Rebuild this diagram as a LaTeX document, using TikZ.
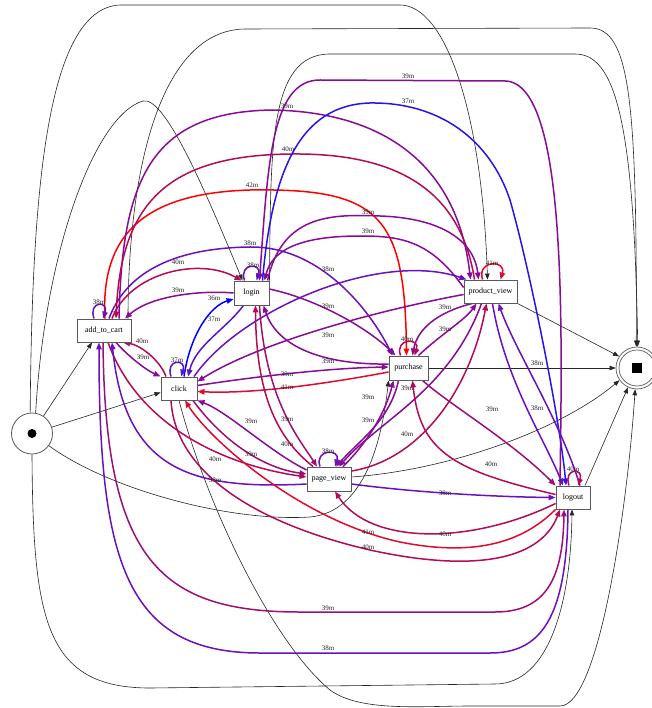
\documentclass[tikz,border=0pt]{standalone}
\usepackage{fontspec}
\setmainfont{Liberation Serif}
\usetikzlibrary{arrows.meta}
\pgfdeclarelayer{bg}
\pgfdeclarelayer{edges}
\pgfsetlayers{bg,edges,main}

\definecolor{c36}{RGB}{0,0,255}
\definecolor{c37}{RGB}{40,20,235}
\definecolor{c37v}{RGB}{85,20,205}
\definecolor{c38}{RGB}{108,16,190}
\definecolor{c39}{RGB}{135,12,150}
\definecolor{c39m}{RGB}{155,15,120}
\definecolor{c40}{RGB}{180,10,90}
\definecolor{c41}{RGB}{225,10,50}
\definecolor{c42}{RGB}{255,0,0}
\definecolor{frame}{RGB}{90,90,90}

\tikzset{
  act/.style={draw=frame, line width=0.9pt, fill=white, inner sep=0pt,
    font=\fontsize{8}{9}\selectfont},
  flow/.style={line width=1.5pt, -{Triangle[length=7pt,width=5.5pt]}},
  f36/.style={flow, color=c36},
  f37/.style={flow, color=c37},
  f37v/.style={flow, color=c37v},
  f38/.style={flow, color=c38},
  f39/.style={flow, color=c39},
  f39m/.style={flow, color=c39m},
  f40/.style={flow, color=c40},
  f41/.style={flow, color=c41},
  f42/.style={flow, color=c42},
  blk/.style={line width=0.6pt, draw=black!85, -{Triangle[length=6pt,width=4.5pt]}},
  lbl/.style={font=\fontsize{7}{8}\selectfont, text=black!85, inner sep=0pt},
}

\begin{document}
\begin{tikzpicture}[x=1pt, y=-1pt]
\useasboundingbox (0,0) rectangle (651,708);
\begin{pgfonlayer}{bg}
  \fill[white] (0,0) rectangle (651,708);
\end{pgfonlayer}

% ---------- activities ----------
\node[act, minimum width=54pt, minimum height=23pt] (A) at (104,330.5) {add\_to\_cart};
\node[act, minimum width=36pt, minimum height=23pt] (C) at (179,388.5) {click};
\node[act, minimum width=35pt, minimum height=24pt] (L) at (251.5,293) {login};
\node[act, minimum width=53pt, minimum height=23pt] (P) at (490.5,291.5) {product\_view};
\node[act, minimum width=39pt, minimum height=24pt] (U) at (408.5,368) {purchase};
\node[act, minimum width=44pt, minimum height=24pt] (G) at (329,479) {page\_view};
\node[act, minimum width=34pt, minimum height=23pt] (O) at (573,497.5) {logout};

% start and end places
\node[circle, draw=frame, line width=0.8pt, minimum size=41pt, inner sep=0pt, fill=white] (S) at (32,433.5) {};
\node[circle, fill=black, minimum size=9pt, inner sep=0pt] (Sdot) at (S.center) {};
\node[circle, draw=frame, line width=0.7pt, minimum size=42pt, inner sep=0pt, fill=white] (E) at (637,368) {};
\node[circle, draw=frame, line width=0.7pt, minimum size=36pt, inner sep=0pt] (Ein) at (E.center) {};
\node[fill=black, minimum size=10pt, inner sep=0pt] (Esq) at (637,367.5) {};

\begin{pgfonlayer}{edges}
% ---------- start arcs ----------
\draw[blk] (S) -- ([xshift=-12pt]A.south);
\draw[blk] (S) -- ([yshift=-4pt]C.west);
\draw[blk] (S.80) .. controls (45,250) and (95,115) .. (143,101) .. controls (165,96) and (205,190) .. ([xshift=-9pt]L.north);
\draw[blk] (S.95) .. controls (32,200) and (45,8) .. (120,5) -- (400,5) .. controls (445,5) and (482,110) .. ([xshift=-3pt]P.north);
\draw[blk] (S) .. controls (110,490) and (230,522) .. (310,517) .. controls (365,512) and (382,440) .. (U.south west);
\draw[blk] (S.south) .. controls (33,620) and (45,688) .. (150,688) -- (495,684) .. controls (550,684) and (571,600) .. ([xshift=-1pt]O.south);

% ---------- end arcs ----------
\draw[blk] ([xshift=24pt]A.north) .. controls (128,170) and (160,30) .. (245,29) -- (590,28) .. controls (630,28) and (637,100) .. (E.92);
\draw[blk] (L.north east) .. controls (271,150) and (268,54) .. (330,54) -- (575,54) .. controls (615,54) and (634,120) .. (E.88);
\draw[blk] (C.south) .. controls (205,500) and (270,640) .. (330,690) .. controls (360,712) and (420,706) .. (470,706) -- (560,706) .. controls (600,706) and (628,500) .. (E.265);
\draw[blk] ([yshift=2pt]G.east) .. controls (450,470) and (560,430) .. (E.215);
\draw[blk] (U.east) -- (E.180);
\draw[blk] (P.south east) -- (E.147);
\draw[blk] ([xshift=12pt]O.north) -- (E.245);

% ---------- add_to_cart ----------
\draw[f39] ([xshift=12pt]A.south) .. controls (128,356) and (146,370) .. (C.north west);
\draw[f40] ([xshift=-13pt]C.north) .. controls (160,360) and (140,345) .. ([xshift=19pt]A.south);
\draw[f40] ([xshift=8pt]A.north) .. controls (130,272) and (200,257) .. ([xshift=-10pt]L.north);
\draw[f39] (L.west) .. controls (200,290) and (150,296) .. ([xshift=21pt]A.north);
\draw[f42] ([xshift=1pt]A.north) .. controls (100,230) and (150,193) .. (250,190) .. controls (380,188) and (405,215) .. ([xshift=-2pt]U.north);
\draw[f38] ([xshift=5pt]A.north) .. controls (125,275) and (170,248) .. (250,247) .. controls (320,246) and (370,310) .. ([xshift=-16pt]U.north);
\draw[f39] ([xshift=15pt]A.north) .. controls (122,180) and (150,112) .. (272,110) .. controls (390,112) and (458,170) .. ([xshift=-20pt]P.north);
\draw[f40] ([xshift=-16pt]P.north) .. controls (462,200) and (410,155) .. (300,154) .. controls (170,153) and (121,200) .. ([xshift=12pt]A.north);
\draw[f40] ([xshift=4pt]A.south) .. controls (140,430) and (230,466) .. ([yshift=2pt]G.west);
\draw[f38] ([yshift=-5pt]G.west) .. controls (190,490) and (125,470) .. ([xshift=8pt]A.south);
\draw[f39m] ([xshift=-1pt]A.south) .. controls (105,560) and (160,612) .. (300,612) -- (495,612) .. controls (545,612) and (563,580) .. ([xshift=-9pt]O.south);
\draw[f38] ([xshift=-5pt]O.south) .. controls (567,620) and (540,653) .. (490,653) -- (260,653) .. controls (125,653) and (99,560) .. ([xshift=-5pt]A.south);

% ---------- click ----------
\draw[f36] ([xshift=5pt]C.north) .. controls (190,335) and (210,306) .. ([yshift=-6pt]L.west);
\draw[f37v] ([xshift=-8pt]L.south) .. controls (225,330) and (196,345) .. ([xshift=9pt]C.north);
\draw[f39] ([yshift=3pt]C.east) .. controls (260,376) and (330,368) .. ([yshift=1pt]U.west);
\draw[f41] ([yshift=-4pt]U.west) .. controls (320,385) and (250,394) .. ([yshift=-3pt]C.east);
\draw[f38] ([xshift=15pt]C.north) .. controls (240,310) and (380,250) .. ([xshift=-24pt]P.north);
\draw[f39] ([yshift=-3pt]P.west) .. controls (380,310) and (260,342) .. ([yshift=7pt]C.east);
\draw[f39m] ([xshift=14pt]C.south) .. controls (222,440) and (262,468) .. ([yshift=5pt]G.west);
\draw[f39] ([yshift=9pt]G.west) .. controls (270,452) and (228,412) .. (C.south east);
\draw[f41] (O.south west) .. controls (520,545) and (470,556) .. (400,542) .. controls (300,520) and (210,440) .. ([xshift=6pt]C.south);
\draw[f40] ([xshift=-8pt]C.south) .. controls (175,470) and (250,522) .. (370,550) .. controls (470,572) and (540,562) .. ([xshift=-13pt]O.south);

% ---------- login ----------
\draw[f39] ([xshift=16pt]L.north) .. controls (282,215) and (330,214) .. (380,216) .. controls (440,218) and (474,240) .. ([xshift=-12pt]P.north);
\draw[f39] ([yshift=4pt]P.west) .. controls (430,240) and (400,236) .. (360,236) .. controls (300,236) and (272,250) .. ([xshift=13pt]L.north);
\draw[f37] ([xshift=11pt]L.north) .. controls (272,170) and (300,105) .. (370,103) .. controls (440,102) and (490,140) .. (510,200) .. controls (530,270) and (560,420) .. ([xshift=-7pt]O.north);
\draw[f39] ([xshift=-13pt]O.north) .. controls (562,330) and (568,82) .. (505,81) -- (320,80) .. controls (272,80) and (268,160) .. ([xshift=8pt]L.north);
\draw[f39] ([yshift=4pt]L.east) .. controls (320,300) and (370,330) .. ([xshift=-13pt]U.north);
\draw[f39] ([yshift=4pt]U.west) .. controls (330,365) and (278,350) .. ([xshift=12pt]L.south);
\draw[f39m] ([xshift=8pt]L.south) .. controls (265,400) and (300,440) .. ([xshift=-12pt]G.north);
\draw[f40] ([xshift=-16pt]G.north) .. controls (280,440) and (256,400) .. ([xshift=4pt]L.south);

% ---------- product_view ----------
\draw[f39] ([xshift=-18pt]P.south) .. controls (445,310) and (418,325) .. ([xshift=4pt]U.north);
\draw[f39] ([xshift=10pt]U.north) .. controls (440,335) and (465,320) .. ([xshift=-14pt]P.south);
\draw[f39] ([xshift=-9pt]P.south) .. controls (450,390) and (380,420) .. ([xshift=10pt]G.north);
\draw[f40] ([yshift=8pt]G.east) .. controls (420,460) and (470,390) .. ([xshift=-4pt]P.south);
\draw[f38] ([xshift=2pt]P.south) .. controls (505,380) and (545,440) .. ([xshift=-10pt]O.north);
\draw[f38] ([xshift=7pt]O.north) .. controls (560,420) and (515,350) .. ([xshift=8pt]P.south);

% ---------- purchase ----------
\draw[f39] ([xshift=-10pt]U.south) .. controls (390,420) and (360,440) .. ([xshift=7pt]G.north);
\draw[f39] ([xshift=14pt]G.north) .. controls (370,440) and (386,410) .. ([xshift=-15pt]U.south);
\draw[f39m] ([xshift=14pt]U.south) .. controls (450,405) and (510,440) .. (O.north west);
\draw[f40] ([yshift=3pt]O.west) .. controls (450,470) and (420,450) .. ([xshift=4pt]U.south);

% ---------- page_view ----------
\draw[f38] ([yshift=-5pt]G.east) .. controls (420,493) and (500,497) .. (O.west);
\draw[f40] ([yshift=-6pt]O.west) .. controls (470,545) and (370,545) .. ([xshift=6pt]G.south);

% ---------- self loops ----------
\draw[f38] ([xshift=-10pt]A.north) .. controls +(-6,-18) and +(6,-18) .. ([xshift=-1pt]A.north);
\draw[f37v] ([xshift=-8pt]C.north) .. controls +(-6,-18) and +(6,-18) .. ([xshift=2pt]C.north);
\draw[f38] ([xshift=-7pt]L.north) .. controls +(-6,-18) and +(6,-18) .. ([xshift=5pt]L.north);
\draw[f41] ([xshift=-8pt]P.north) .. controls +(-6,-20) and +(6,-20) .. ([xshift=10pt]P.north);
\draw[f40] ([xshift=-8pt]U.north) .. controls +(-6,-18) and +(6,-18) .. ([xshift=6pt]U.north);
\draw[f38] ([xshift=-9pt]G.north) .. controls +(-6,-18) and +(6,-18) .. ([xshift=6pt]G.north);
\draw[f40] ([xshift=-4pt]O.north) .. controls +(-6,-18) and +(6,-18) .. ([xshift=5pt]O.north);
\end{pgfonlayer}

% ---------- durations ----------
\node[lbl] (t1) at (408,76) {39m};
\node[lbl] (t2) at (408,101) {37m};
\node[lbl] (t3) at (287,106) {39m};
\node[lbl] (t4) at (288,149) {40m};
\node[lbl] (t5) at (252,185) {42m};
\node[lbl] (t6) at (368,212) {39m};
\node[lbl] (t7) at (368,231) {39m};
\node[lbl] (t8) at (250,243) {38m};
\node[lbl] (t9) at (178,262) {40m};
\node[lbl] (t10) at (253,265) {38m};
\node[lbl] (t11) at (328,269) {38m};
\node[lbl] (t12) at (178,290) {39m};
\node[lbl] (t13) at (99,302) {38m};
\node[lbl] (t14) at (214,298) {36m};
\node[lbl] (t15) at (328,306) {39m};
\node[lbl] (t16) at (214,319) {37m};
\node[lbl] (t17) at (328,335) {39m};
\node[lbl] (t18) at (142,341) {40m};
\node[lbl] (t19) at (143,357) {39m};
\node[lbl] (t20) at (177,360) {37m};
\node[lbl] (t21) at (492,263) {41m};
\node[lbl] (t22) at (445,307) {39m};
\node[lbl] (t23) at (445,329) {39m};
\node[lbl] (t24) at (407,339) {40m};
\node[lbl] (t25) at (287,374) {39m};
\node[lbl] (t26) at (287,387) {41m};
\node[lbl] (t27) at (328,361) {39m};
\node[lbl] (t28) at (537,363) {38m};
\node[lbl] (t29) at (407,388) {39m};
\node[lbl] (t30) at (368,397) {39m};
\node[lbl] (t31) at (368,420) {39m};
\node[lbl] (t32) at (537,408) {38m};
\node[lbl] (t33) at (492,409) {39m};
\node[lbl] (t34) at (407,434) {40m};
\node[lbl] (t35) at (251,421) {39m};
\node[lbl] (t36) at (287,419) {39m};
\node[lbl] (t37) at (287,444) {40m};
\node[lbl] (t38) at (251,454) {39m};
\node[lbl] (t39) at (215,459) {40m};
\node[lbl] (t40) at (215,480) {38m};
\node[lbl] (t41) at (328,451) {38m};
\node[lbl] (t42) at (491,464) {40m};
\node[lbl] (t43) at (573,469) {40m};
\node[lbl] (t44) at (445,493) {38m};
\node[lbl] (t45) at (368,532) {41m};
\node[lbl] (t46) at (445,534) {40m};
\node[lbl] (t47) at (368,547) {40m};
\node[lbl] (t48) at (328,608) {39m};
\node[lbl] (t49) at (328,648) {38m};
\end{tikzpicture}
\end{document}
